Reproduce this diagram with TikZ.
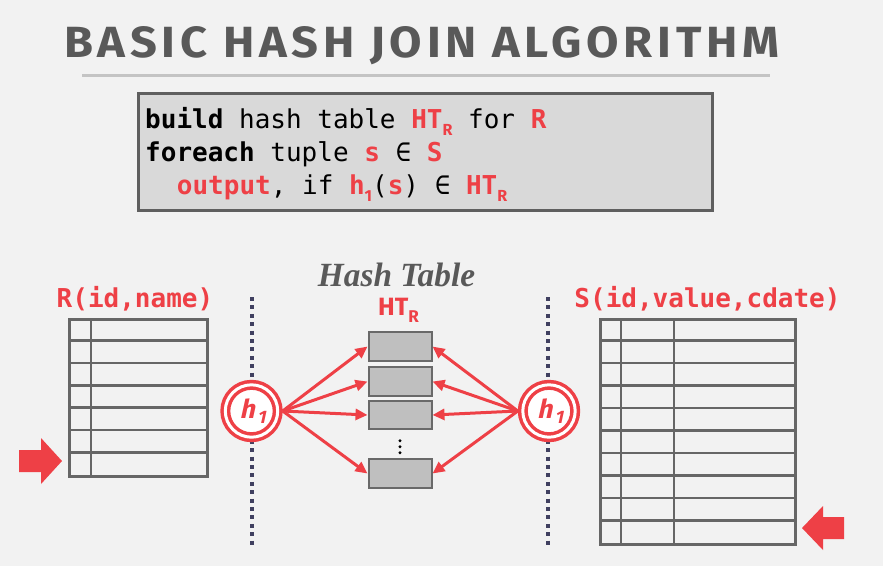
\documentclass[tikz,border=0pt]{standalone}
\usepackage{fontspec}
\usepackage{graphicx}
\usetikzlibrary{arrows.meta}
\newfontfamily\codefont{DejaVu Sans Mono}
\newfontfamily\firafont{Fira Sans}
\newfontfamily\titlefont[LetterSpace=10]{Fira Sans}
\newfontfamily\hfont[FakeSlant=0.22]{Fira Sans}
\newfontfamily\htfont{Liberation Serif}
\definecolor{dbred}{RGB}{238,64,70}
\definecolor{bgcol}{RGB}{242,242,242}
\definecolor{titlecol}{RGB}{89,89,89}
\definecolor{rulecol}{RGB}{196,196,196}
\definecolor{boxfill}{RGB}{217,217,217}
\definecolor{boxline}{RGB}{95,95,95}
\definecolor{tabline}{RGB}{102,102,102}
\definecolor{bucketfill}{RGB}{191,191,191}
\definecolor{bucketline}{RGB}{105,105,105}
\definecolor{dotcol}{RGB}{64,64,96}
\newcommand{\codesize}{\fontsize{26}{26}\selectfont}
\newcommand{\mysub}[1]{\raisebox{-7pt}{\firafont\bfseries\fontsize{16}{16}\selectfont #1}}
\newcommand{\rb}[1]{\textcolor{dbred}{\textbf{#1}}}
\newcommand{\hone}{\hspace{2pt}\raisebox{-4.5pt}{h\kern2.5pt\raisebox{-5pt}{\fontsize{18}{18}\selectfont 1}}}
\tikzset{
  codebox/.style={draw=boxline, fill=boxfill, line width=2.5pt, rectangle, inner sep=0pt},
  codeline/.style={anchor=base west, inner sep=0pt, font=\codefont\codesize},
  tbl/.style={draw=tabline, line width=2.5pt},
  bucket/.style={draw=bucketline, fill=bucketfill, line width=2pt, rectangle, minimum width=63pt, minimum height=28.5pt, inner sep=0pt},
  hashfn/.style={circle, draw=dbred, double=white, line width=3.5pt, double distance=3pt, fill=white, minimum size=52.4pt, inner sep=0pt, outer sep=5pt, text=dbred, font=\hfont\bfseries\fontsize{26}{26}\selectfont},
  dotline/.style={draw=dotcol, line width=3.5pt, dash pattern=on 4pt off 4.4pt},
  harrow/.style={draw=dbred, line width=3pt, -{Triangle[length=12pt,width=11pt]}},
  bigarrow/.style={fill=dbred},
  rellabel/.style={anchor=base, inner sep=0pt, text=dbred, font=\codefont\bfseries\codesize}
}
\begin{document}
\begin{tikzpicture}[x=1pt,y=-1pt]
\fill[bgcol] (0,0) rectangle (883,566);
\useasboundingbox (0,0) rectangle (883,566);

% title
\node[anchor=base west, inner sep=0pt, text=titlecol] (title) at (64,57)
  {\resizebox{715pt}{31pt}{\titlefont\bfseries\fontsize{45}{45}\selectfont BASIC HASH JOIN ALGORITHM}};
\draw[rulecol, line width=3pt] (82,75) -- (770,75);

% code box
\node[codebox, anchor=north west, minimum width=574pt, minimum height=117pt] (code) at (137,92) {};
\node[codeline] (l1) at (145,128) {\textbf{build} hash table \rb{HT\mysub{R}} for \rb{R}};
\node[codeline] (l2) at (145,161) {\textbf{foreach} tuple \rb{s} ∈ \rb{S}};
\node[codeline] (l3) at (176.7,194) {\rb{output}, if \rb{h\mysub{1}}(\rb{s}) ∈ \rb{HT\mysub{R}}};

% separators
\draw[dotline] (252,297) -- (252,545);
\draw[dotline] (548,297) -- (548,546);

% relation labels
\node[rellabel] (Rlab) at (135,307) {R(id,name)};
\node[rellabel] (Slab) at (707.5,307) {S(id,value,cdate)};

% R table
\node[tbl, rectangle, anchor=north west, minimum width=138pt, minimum height=157pt, inner sep=0pt] (Rtab) at (68,318) {};
\foreach \i in {1,...,6} {
  \draw[tbl] (68,318+\i*22.43) -- (206,318+\i*22.43);
}
\draw[tbl] (91,318) -- (91,475);

% S table
\node[tbl, rectangle, anchor=north west, minimum width=195pt, minimum height=225pt, inner sep=0pt] (Stab) at (599,318) {};
\foreach \i in {1,...,9} {
  \draw[tbl] (599,318+\i*22.5) -- (794,318+\i*22.5);
}
\draw[tbl] (621,318) -- (621,543);
\draw[tbl] (674,318) -- (674,543);

% block arrows
\fill[bigarrow] (19,450) -- (41,450) -- (41,438) -- (62,461) -- (41,484) -- (41,472) -- (19,472) -- cycle;
\fill[bigarrow] (844,517) -- (823,517) -- (823,506) -- (802,528) -- (823,550) -- (823,539) -- (844,539) -- cycle;

% hash table
\node[anchor=base, inner sep=0pt, text=titlecol] (htitle) at (396.5,286)
  {\resizebox{157pt}{23.5pt}{\htfont\bfseries\itshape Hash Table}};
\node[anchor=base west, inner sep=0pt, text=dbred] (htr) at (378,315)
  {\firafont\bfseries\fontsize{25}{25}\selectfont HT\raisebox{-7pt}{\fontsize{17}{17}\selectfont R}};
\node[bucket] (b1) at (400,346.5) {};
\node[bucket] (b2) at (400,381.5) {};
\node[bucket] (b3) at (400,415) {};
\node[bucket] (b4) at (400,473.5) {};
\foreach \y in {440.7,446.7,452.7} {
  \fill[black] (400,\y) circle (1.7);
}

% hash functions
\node[hashfn] (hL) at (251.5,411) {\hone};
\node[hashfn] (hR) at (549,411) {\hone};

% arrows
\foreach \b in {b1,b2,b3,b4} {
  \draw[harrow] (hL.east) -- (\b.west);
  \draw[harrow] (hR.west) -- (\b.east);
}
\end{tikzpicture}
\end{document}
